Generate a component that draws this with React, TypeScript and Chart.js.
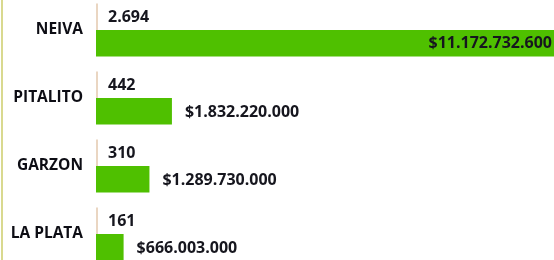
import React, { useEffect, useRef } from "react";
import { Chart, registerables } from "chart.js";

Chart.register(...registerables);

const categories = ["NEIVA", "PITALITO", "GARZON", "LA PLATA"];
const counts = [2694, 442, 310, 161];
const amounts = [11172732600, 1832220000, 1289730000, 666003000];

const fmt = (n: number) => String(Math.round(n)).replace(/\B(?=(\d{3})+(?!\d))/g, ".");

const labelPlugin = {
  id: "barLabels",
  afterDatasetsDraw(chart: any) {
    const ctx = chart.ctx;
    ctx.save();
    ctx.fillStyle = "#16161e";
    ctx.textBaseline = "middle";
    ctx.font = 'bold 16px "Open Sans"';
    const m0 = chart.getDatasetMeta(0);
    m0.data.forEach((el: any, i: number) => {
      ctx.textAlign = "left";
      ctx.fillText(fmt(counts[i]), el.base + 12, el.y + 1);
    });
    const m1 = chart.getDatasetMeta(1);
    m1.data.forEach((el: any, i: number) => {
      const t = "$" + fmt(amounts[i]);
      const w = ctx.measureText(t).width;
      if (el.x - el.base > w + 20) {
        ctx.textAlign = "right";
        ctx.fillText(t, el.x - 7, el.y);
      } else {
        ctx.textAlign = "left";
        ctx.fillText(t, el.x + 13, el.y + 1);
      }
    });
    ctx.restore();
  },
};

export default function App() {
  const ref = useRef<HTMLCanvasElement | null>(null);
  useEffect(() => {
    if (!ref.current) return;
    const chart = new Chart(ref.current, {
      type: "bar",
      data: {
        labels: categories,
        datasets: [
          {
            label: "Cantidad",
            data: counts,
            backgroundColor: "#ead6c2",
            minBarLength: 2,
            categoryPercentage: 0.78,
            barPercentage: 1,
          },
          {
            label: "Valor",
            data: amounts,
            backgroundColor: "#4fc000",
            categoryPercentage: 0.78,
            barPercentage: 1,
          },
        ],
      },
      options: {
        indexAxis: "y",
        animation: false,
        responsive: false,
        maintainAspectRatio: false,
        layout: { padding: { top: 0, bottom: 0, left: 0, right: 1 } },
        plugins: { legend: { display: false }, tooltip: { enabled: false } },
        scales: {
          x: {
            display: false,
            min: 0,
            max: Math.max(...amounts),
          },
          y: {
            grid: { display: false, drawTicks: false },
            border: { display: false },
            ticks: {
              padding: 13,
              color: "#0d0d14",
              font: { family: "Open Sans", size: 15.5, weight: "bold" },
            },
            afterFit: (s: any) => {
              s.width = 96;
              s.paddingTop = 0;
              s.paddingBottom = 0;
            },
          },
        },
      },
      plugins: [labelPlugin],
    });
    return () => chart.destroy();
  }, []);
  return (
    <div
      style={{
        position: "fixed",
        left: 0,
        top: 0,
        width: 554,
        height: 260,
        overflow: "hidden",
        background: "#fff",
      }}
    >
      <div style={{ position: "absolute", left: 1, top: 0, width: 2, height: 260, background: "#d9d98f" }} />
      <canvas
        ref={ref}
        width={560}
        height={272}
        style={{ position: "absolute", left: 0, top: -4, width: 560, height: 272 }}
      />
    </div>
  );
}
